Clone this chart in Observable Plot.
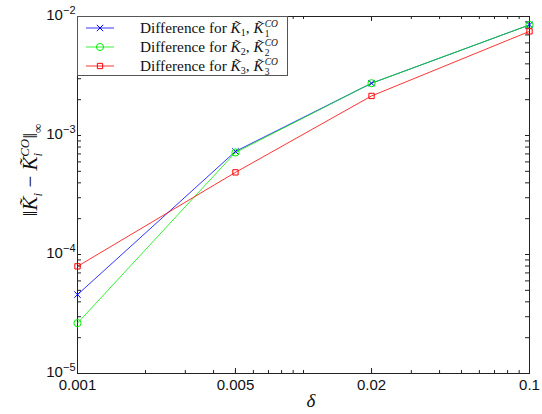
<!DOCTYPE html>
<html><head><meta charset="utf-8">
<script src="https://cdn.jsdelivr.net/npm/d3@7"></script>
<script src="https://cdn.jsdelivr.net/npm/@observablehq/plot@0.6"></script>
<style>
body{margin:0;background:#fff;}
#chart{position:relative;width:542px;height:414px;overflow:hidden;}
#legend{position:absolute;left:77px;top:16px;width:211px;height:60px;border:1px solid #555;background:#fff;box-sizing:border-box;font-family:"Liberation Serif","DejaVu Serif",serif;font-size:15.3px;color:#111;}
.row{position:absolute;left:0;height:19px;width:100%;}
.row svg{position:absolute;left:0;top:0;}
.row .lbl{position:absolute;left:62px;top:0px;white-space:nowrap;line-height:19px;}
.ss{display:inline-block;font-size:9.5px;line-height:10px;vertical-align:-4px;margin-left:1px;}
.sb{font-size:10px;position:relative;top:3px;}
</style></head><body><div id="chart"><div id="legend"></div></div>
<script>
const deltas = [0.001, 0.005, 0.02, 0.1];
const diffK1 = [4.6e-5, 7.35e-4, 2.75e-3, 8.5e-3];
const diffK2 = [2.65e-5, 7.2e-4, 2.75e-3, 8.5e-3];
const diffK3 = [7.95e-5, 4.9e-4, 2.15e-3, 7.5e-3];
const seriesIndex = ["1", "2", "3"];
const seriesColors = ["#0000ff", "#00ee00", "#ff0000"];
const seriesSymbols = ["times", "circle", "square"];
const xTickValues = [0.001, 0.005, 0.02, 0.1];
const yTickValues = [1e-5, 1e-4, 1e-3, 1e-2];

const W = 542, H = 414, mt = 16, mb = 41, ml = 77, mr = 13;
const ph = H - mt - mb, pw = W - ml - mr;

const seriesValues = [diffK1, diffK2, diffK3];
const rows = [];
seriesValues.forEach((vals, s) => vals.forEach((v, i) => rows.push({s, delta: deltas[i], v})));

const xMinor = [];
for (let e = -3; e <= -2; e++) for (let k = 1; k <= 9; k++) xMinor.push(k * Math.pow(10, e));
xMinor.push(0.1);
const yMinor = [];
for (let e = -5; e <= -3; e++) for (let k = 1; k <= 9; k++) yMinor.push(k * Math.pow(10, e));
yMinor.push(0.01);

const marks = [
  Plot.frame({stroke: "#222", strokeWidth: 1}),
  Plot.tickX(xMinor, {x: d => d, insetTop: ph - 3, stroke: "#222"}),
  Plot.tickX(xMinor, {x: d => d, insetBottom: ph - 3, stroke: "#222"}),
  Plot.tickX(xTickValues, {x: d => d, insetTop: ph - 5, stroke: "#222"}),
  Plot.tickX(xTickValues, {x: d => d, insetBottom: ph - 5, stroke: "#222"}),
  Plot.tickY(yMinor, {y: d => d, insetRight: pw - 4, stroke: "#222"}),
  Plot.tickY(yMinor, {y: d => d, insetLeft: pw - 4, stroke: "#222"}),
  Plot.text(xTickValues, {x: d => d, frameAnchor: "bottom", dy: 16, text: d => String(d), fontSize: 15}),
  Plot.text(yTickValues, {y: d => d, frameAnchor: "left", dx: -2, dy: -1.5, textAnchor: "end", text: d => "10|" + Math.round(Math.log10(d)), fontSize: 15, className: "ylab"})
];
seriesValues.forEach((vals, s) => {
  const data = rows.filter(r => r.s === s);
  marks.push(Plot.line(data, {x: "delta", y: "v", stroke: seriesColors[s], strokeWidth: 0.8}));
});
seriesValues.forEach((vals, s) => {
  const data = rows.filter(r => r.s === s);
  marks.push(Plot.dot(data, {x: "delta", y: "v", stroke: seriesColors[s], symbol: seriesSymbols[s], r: s === 1 ? 3.6 : 3.0, strokeWidth: 1, fill: "none"}));
});

const chart = Plot.plot({
  width: W, height: H,
  marginTop: mt, marginBottom: mb, marginLeft: ml, marginRight: mr,
  style: {fontFamily: "'Liberation Sans', Arial, sans-serif", fontSize: "15px", background: "#fff", color: "#111"},
  x: {type: "log", domain: [0.001, 0.1], axis: null},
  y: {type: "log", domain: [1e-5, 1e-2], axis: null},
  marks
});
const holder = document.getElementById("chart");
holder.insertBefore(chart, holder.firstChild);

// superscript exponents on y tick labels
const svg = d3.select(chart);
svg.selectAll('g.ylab text').each(function () {
  const t = d3.select(this);
  const parts = t.text().split("|");
  t.text("");
  t.append("tspan").text(parts[0]);
  t.append("tspan").attr("dy", "-0.55em").attr("font-size", 11).text(parts[1].replace("-", "\u2212"));
});

// y axis label
const yl = svg.append("text")
  .attr("transform", "translate(37,170) rotate(-90)")
  .attr("text-anchor", "middle")
  .attr("font-family", "'Liberation Serif','DejaVu Serif',serif")
  .attr("font-size", 21)
  .attr("fill", "#111");
yl.append("tspan").text("\u2016");
yl.append("tspan").attr("font-style", "italic").text("K\u0303");
yl.append("tspan").attr("font-style", "italic").attr("font-size", 13).attr("dy", 5).text("i");
yl.append("tspan").attr("dy", -5).text(" \u2212 ");
yl.append("tspan").attr("font-style", "italic").text("K\u0303");
yl.append("tspan").attr("font-style", "italic").attr("font-size", 13).attr("dy", 5).text("i");
yl.append("tspan").attr("font-style", "italic").attr("font-size", 13).attr("dy", -13).attr("dx", -4).text("CO");
yl.append("tspan").attr("dy", 8).text("\u2016");
yl.append("tspan").attr("font-size", 13).attr("dy", 5).text("\u221e");

// x axis label
svg.append("text")
  .attr("x", ml + pw / 2 + 8).attr("y", 407)
  .attr("text-anchor", "middle")
  .attr("font-family", "'Liberation Serif','DejaVu Serif',serif")
  .attr("font-style", "italic")
  .attr("font-size", 19)
  .attr("fill", "#111")
  .text("\u03b4");

// legend
const legend = document.getElementById("legend");
seriesIndex.forEach((n, s) => {
  const row = document.createElement("div");
  row.className = "row";
  row.style.top = (1 + s * 19) + "px";
  const sym = d3.symbol(s === 0 ? d3.symbolTimes : s === 1 ? d3.symbolCircle : d3.symbolSquare, s === 1 ? 40 : 28)();
  row.innerHTML = `<svg width="50" height="19"><line x1="8" x2="36" y1="10" y2="10" stroke="${seriesColors[s]}" stroke-width="0.8"/>` +
    `<path d="${sym}" transform="translate(22,10)" fill="none" stroke="${seriesColors[s]}"/></svg>` +
    `<span class="lbl">Difference for <i>K\u0303</i><span class="sb">${n}</span>, <i>K\u0303</i><span class="ss"><i>CO</i><br>${n}</span></span>`;
  legend.appendChild(row);
});
</script>
</body></html>
